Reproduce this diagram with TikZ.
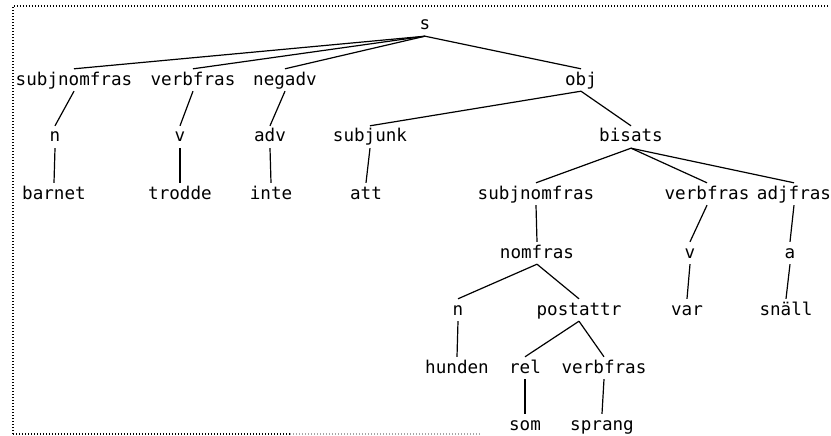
\documentclass[tikz,border=0pt]{standalone}
\usepackage{fontspec}
\setmonofont{DejaVu Sans Mono}
\begin{document}
\begin{tikzpicture}[x=1pt,y=-1pt,
  lbl/.style={anchor=base, font=\ttfamily\fontsize{17.6}{20}\selectfont,
    text height=12pt, text depth=2pt, inner xsep=1pt, inner ysep=4pt},
  branch/.style={line width=1.2pt},
  frame/.style={line width=1.4pt, dash pattern=on 1.4pt off 1.6pt}]
\useasboundingbox (0,0) rectangle (831,436);

% dotted frame
\draw[frame] (13,434) -- (13,6) -- (829,6);
\draw[frame] (13,434) -- (290,434);
\draw[frame, black!35] (290,434) -- (480,434);

% root
\node[lbl] (s) at (425,30) {s};

% level 1
\node[lbl] (snf1) at (74,85)  {subjnomfras};
\node[lbl] (vf1)  at (193,85) {verbfras};
\node[lbl] (neg)  at (285,85) {negadv};
\node[lbl] (obj)  at (581,85) {obj};

% level 2
\node[lbl] (n1)   at (55,142)  {n};
\node[lbl] (v1)   at (180,142) {v};
\node[lbl] (adv)  at (270,142) {adv};
\node[lbl] (sjk)  at (370,142) {subjunk};
\node[lbl] (bis)  at (631,142) {bisats};

% level 3
\node[lbl] (barnet) at (54,199)  {barnet};
\node[lbl] (trodde) at (180,199) {trodde};
\node[lbl] (inte)   at (271,199) {inte};
\node[lbl] (att)    at (366,199) {att};
\node[lbl] (snf2)   at (536,199) {subjnomfras};
\node[lbl] (vf2)    at (707,199) {verbfras};
\node[lbl] (adjf)   at (794,199) {adjfras};

% level 4
\node[lbl] (nomf) at (537,258) {nomfras};
\node[lbl] (v2)   at (690,258) {v};
\node[lbl] (a)    at (790,258) {a};

% level 5
\node[lbl] (n2)    at (458,315) {n};
\node[lbl] (post)  at (579,315) {postattr};
\node[lbl] (var)   at (687,315) {var};
\node[lbl] (snall) at (786,315) {snäll};

% level 6
\node[lbl] (hunden) at (457,373) {hunden};
\node[lbl] (rel)    at (525,373) {rel};
\node[lbl] (vf3)    at (604,373) {verbfras};

% level 7
\node[lbl] (som)    at (525,430) {som};
\node[lbl] (sprang) at (602,430) {sprang};

% branches
\foreach \p/\c in {s/snf1, s/vf1, s/neg, s/obj,
    snf1/n1, vf1/v1, neg/adv, obj/sjk, obj/bis,
    n1/barnet, v1/trodde, adv/inte, sjk/att,
    bis/snf2, bis/vf2, bis/adjf,
    snf2/nomf, vf2/v2, adjf/a,
    nomf/n2, nomf/post, v2/var, a/snall,
    n2/hunden, post/rel, post/vf3,
    rel/som, vf3/sprang}
  \draw[branch] (\p.south) -- (\c.north);
\end{tikzpicture}
\end{document}
